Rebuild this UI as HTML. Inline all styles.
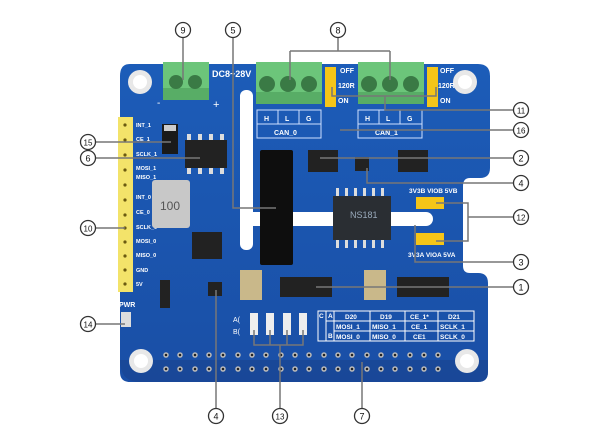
<!DOCTYPE html>
<html><head><meta charset="utf-8"><style>
html,body{margin:0;padding:0;background:#fff;}
svg{display:block;}
text{font-family:"Liberation Sans",sans-serif;}
</style></head><body>
<svg width="600" height="441" viewBox="0 0 600 441" xmlns="http://www.w3.org/2000/svg">
<defs>
<linearGradient id="pcb" x1="0" y1="0" x2="0" y2="1"><stop offset="0" stop-color="#1c5cb8"/><stop offset="1" stop-color="#1a4fa6"/></linearGradient>
</defs>
<!-- board -->
<path d="M130 64 H478 Q490 64 490 76 V168 Q490 178 480 178 H470 Q463 178 463 186 V266 Q463 273 470 273 H478 Q488 273 488 283 V372 Q488 382 478 382 H130 Q120 382 120 372 V76 Q120 64 130 64 Z" fill="url(#pcb)"/>
<path d="M120 360 Q120 382 140 382 H478 Q488 382 488 372 V360 Z" fill="#173f8a" opacity="0.5"/>
<!-- mounting holes -->
<circle cx="140" cy="82" r="12" fill="#e8e8e8"/><circle cx="140" cy="82" r="7" fill="#fff"/>
<circle cx="465" cy="82" r="12" fill="#e8e8e8"/><circle cx="465" cy="82" r="7" fill="#fff"/>
<circle cx="141" cy="361" r="12" fill="#e8e8e8"/><circle cx="141" cy="361" r="7" fill="#fff"/>
<circle cx="467" cy="361" r="12" fill="#e8e8e8"/><circle cx="467" cy="361" r="7" fill="#fff"/>
<!-- slots -->
<rect x="240" y="90" width="13" height="160" rx="6" fill="#fff"/>
<rect x="240" y="212" width="193" height="14" rx="7" fill="#fff"/>
<!-- terminal blocks -->
<rect x="163" y="62" width="46" height="38" fill="#6cc57a"/><rect x="163" y="88" width="46" height="12" fill="#58ad66"/>
<circle cx="176" cy="82" r="7" fill="#3a7a45"/><circle cx="195" cy="82" r="7" fill="#3a7a45"/>
<rect x="256" y="62" width="66" height="42" fill="#6cc57a"/><rect x="256" y="92" width="66" height="12" fill="#58ad66"/>
<circle cx="267" cy="84" r="8" fill="#3a7a45"/><circle cx="288" cy="84" r="8" fill="#3a7a45"/><circle cx="309" cy="84" r="8" fill="#3a7a45"/>
<rect x="358" y="62" width="66" height="42" fill="#6cc57a"/><rect x="358" y="92" width="66" height="12" fill="#58ad66"/>
<circle cx="369" cy="84" r="8" fill="#3a7a45"/><circle cx="390" cy="84" r="8" fill="#3a7a45"/><circle cx="411" cy="84" r="8" fill="#3a7a45"/>
<text x="212" y="77" font-size="9" font-weight="bold" fill="#fff">DC8~28V</text>
<text x="157" y="106" font-size="10" fill="#fff">-</text><text x="213" y="108" font-size="11" fill="#fff">+</text>
<!-- CAN labels -->
<g fill="none" stroke="#cfe0ff" stroke-width="1"><rect x="257" y="110" width="64" height="28"/><line x1="257" y1="124" x2="321" y2="124"/><line x1="278" y1="110" x2="278" y2="124"/><line x1="299" y1="110" x2="299" y2="124"/>
<rect x="358" y="110" width="64" height="28"/><line x1="358" y1="124" x2="422" y2="124"/><line x1="379" y1="110" x2="379" y2="124"/><line x1="400" y1="110" x2="400" y2="124"/></g>
<g font-size="7" font-weight="bold" fill="#fff"><text x="264" y="121">H</text><text x="285" y="121">L</text><text x="306" y="121">G</text><text x="274" y="135">CAN_0</text>
<text x="365" y="121">H</text><text x="386" y="121">L</text><text x="407" y="121">G</text><text x="375" y="135">CAN_1</text></g>
<!-- jumpers -->
<rect x="325" y="67" width="11" height="40" fill="#f5c518"/><rect x="427" y="67" width="11" height="40" fill="#f5c518"/>
<g font-size="7" font-weight="bold" fill="#fff"><text x="340" y="73">OFF</text><text x="338" y="88">120R</text><text x="338" y="103">ON</text>
<text x="440" y="73">OFF</text><text x="438" y="88">120R</text><text x="440" y="103">ON</text></g>
<rect x="416" y="197" width="28" height="12" fill="#f5c518"/><rect x="416" y="233" width="28" height="12" fill="#f5c518"/>
<g font-size="6.5" font-weight="bold" fill="#fff"><text x="409" y="193">3V3B VIOB 5VB</text><text x="408" y="257">3V3A VIOA 5VA</text></g>
<!-- header left -->
<rect x="118" y="117" width="15" height="175" fill="#f3e36a"/>
<g fill="#6b5a10"><circle cx="125" cy="125" r="1.6"/><circle cx="125" cy="140" r="1.6"/><circle cx="125" cy="155" r="1.6"/><circle cx="125" cy="170" r="1.6"/><circle cx="125" cy="185" r="1.6"/><circle cx="125" cy="200" r="1.6"/><circle cx="125" cy="215" r="1.6"/><circle cx="125" cy="228" r="1.6"/><circle cx="125" cy="242" r="1.6"/><circle cx="125" cy="256" r="1.6"/><circle cx="125" cy="270" r="1.6"/><circle cx="125" cy="284" r="1.6"/></g>
<g font-size="5.5" font-weight="bold" fill="#fff"><text x="136" y="127">INT_1</text><text x="136" y="141">CE_1</text><text x="136" y="156">SCLK_1</text><text x="136" y="170">MOSI_1</text><text x="136" y="179">MISO_1</text><text x="136" y="199">INT_0</text><text x="136" y="214">CE_0</text><text x="136" y="229">SCLK_0</text><text x="136" y="243">MOSI_0</text><text x="136" y="257">MISO_0</text><text x="136" y="272">GND</text><text x="136" y="286">5V</text></g>
<!-- components -->
<rect x="162" y="124" width="16" height="30" fill="#1a1a1a"/><rect x="164" y="125" width="12" height="6" fill="#ccc"/>
<rect x="185" y="140" width="42" height="28" fill="#222"/>
<g fill="#ddd"><rect x="187" y="134" width="4" height="6"/><rect x="198" y="134" width="4" height="6"/><rect x="209" y="134" width="4" height="6"/><rect x="220" y="134" width="4" height="6"/><rect x="187" y="168" width="4" height="6"/><rect x="198" y="168" width="4" height="6"/><rect x="209" y="168" width="4" height="6"/><rect x="220" y="168" width="4" height="6"/></g>
<rect x="152" y="180" width="38" height="48" rx="3" fill="#c8c8c8"/><text x="160" y="210" font-size="12" fill="#555">100</text>
<rect x="260" y="150" width="33" height="115" rx="2" fill="#0e0e0e"/>
<rect x="192" y="232" width="30" height="27" fill="#222"/>
<rect x="333" y="196" width="58" height="44" fill="#2a2e33"/><text x="350" y="218" font-size="9" fill="#9ab">NS181</text>
<g fill="#ddd"><rect x="336" y="188" width="3" height="8"/><rect x="345" y="188" width="3" height="8"/><rect x="354" y="188" width="3" height="8"/><rect x="363" y="188" width="3" height="8"/><rect x="372" y="188" width="3" height="8"/><rect x="381" y="188" width="3" height="8"/><rect x="336" y="240" width="3" height="8"/><rect x="345" y="240" width="3" height="8"/><rect x="354" y="240" width="3" height="8"/><rect x="363" y="240" width="3" height="8"/><rect x="372" y="240" width="3" height="8"/><rect x="381" y="240" width="3" height="8"/></g>
<rect x="308" y="150" width="30" height="22" fill="#222"/><rect x="398" y="150" width="30" height="22" fill="#222"/>
<rect x="280" y="277" width="52" height="20" fill="#222"/><rect x="397" y="277" width="52" height="20" fill="#222"/>
<rect x="240" y="270" width="22" height="30" fill="#c9b88a"/><rect x="364" y="270" width="22" height="30" fill="#c9b88a"/>
<rect x="355" y="157" width="14" height="14" fill="#222"/>
<rect x="208" y="282" width="14" height="14" fill="#222"/>
<rect x="160" y="280" width="10" height="28" fill="#222"/>
<!-- jumper pads 13 -->
<g fill="#eee"><rect x="250" y="313" width="8" height="22"/><rect x="266" y="313" width="8" height="22"/><rect x="283" y="313" width="8" height="22"/><rect x="299" y="313" width="8" height="22"/></g>
<text x="233" y="322" font-size="7" fill="#fff">A(</text><text x="233" y="334" font-size="7" fill="#fff">B(</text>
<!-- table -->
<g fill="none" stroke="#fff" stroke-width="1"><rect x="318" y="311" width="156" height="30"/><line x1="326" y1="311" x2="326" y2="341"/><line x1="334" y1="311" x2="334" y2="341"/><line x1="326" y1="321" x2="474" y2="321"/><line x1="334" y1="331" x2="474" y2="331"/><line x1="370" y1="311" x2="370" y2="341"/><line x1="405" y1="311" x2="405" y2="341"/><line x1="438" y1="311" x2="438" y2="341"/></g>
<g font-size="6.5" font-weight="bold" fill="#fff"><text x="319" y="318">C</text><text x="328" y="318">A</text><text x="328" y="338">B</text>
<text x="345" y="319">D20</text><text x="380" y="319">D19</text><text x="410" y="319">CE_1*</text><text x="448" y="319">D21</text>
<text x="336" y="329">MOSI_1</text><text x="372" y="329">MISO_1</text><text x="411" y="329">CE_1</text><text x="440" y="329">SCLK_1</text>
<text x="336" y="339">MOSI_0</text><text x="372" y="339">MISO_0</text><text x="413" y="339">CE1</text><text x="440" y="339">SCLK_0</text></g>
<!-- PWR -->
<text x="119" y="307" font-size="7" font-weight="bold" fill="#fff">PWR</text>
<rect x="121" y="312" width="10" height="15" fill="#ddd"/>
<!-- GPIO pins -->
<g fill="#222" stroke="#bbb" stroke-width="1.5" id="pins">
<circle cx="166" cy="355" r="2"/><circle cx="180" cy="355" r="2"/><circle cx="195" cy="355" r="2"/><circle cx="209" cy="355" r="2"/><circle cx="223" cy="355" r="2"/><circle cx="238" cy="355" r="2"/><circle cx="252" cy="355" r="2"/><circle cx="266" cy="355" r="2"/><circle cx="281" cy="355" r="2"/><circle cx="295" cy="355" r="2"/><circle cx="309" cy="355" r="2"/><circle cx="324" cy="355" r="2"/><circle cx="338" cy="355" r="2"/><circle cx="352" cy="355" r="2"/><circle cx="367" cy="355" r="2"/><circle cx="381" cy="355" r="2"/><circle cx="395" cy="355" r="2"/><circle cx="410" cy="355" r="2"/><circle cx="424" cy="355" r="2"/><circle cx="438" cy="355" r="2"/>
<circle cx="166" cy="369" r="2"/><circle cx="180" cy="369" r="2"/><circle cx="195" cy="369" r="2"/><circle cx="209" cy="369" r="2"/><circle cx="223" cy="369" r="2"/><circle cx="238" cy="369" r="2"/><circle cx="252" cy="369" r="2"/><circle cx="266" cy="369" r="2"/><circle cx="281" cy="369" r="2"/><circle cx="295" cy="369" r="2"/><circle cx="309" cy="369" r="2"/><circle cx="324" cy="369" r="2"/><circle cx="338" cy="369" r="2"/><circle cx="352" cy="369" r="2"/><circle cx="367" cy="369" r="2"/><circle cx="381" cy="369" r="2"/><circle cx="395" cy="369" r="2"/><circle cx="410" cy="369" r="2"/><circle cx="424" cy="369" r="2"/><circle cx="438" cy="369" r="2"/></g>
<!-- leader lines -->
<g fill="none" stroke="#777" stroke-width="1.5">
<path d="M183 37 V80"/><path d="M233 37 V208 H276"/>
<path d="M338 37 V51 M290 51 H390 M290 51 V80 M390 51 V80"/>
<path d="M95 142 H171"/><path d="M95 158 H200"/><path d="M95 228 H125"/><path d="M95 324 H125"/>
<path d="M332 87 V96 H436 V87 M385 96 V110 H514"/>
<path d="M340 130 H514"/><path d="M320 158 H514"/>
<path d="M367 168 V183 H514"/>
<path d="M436 203 H468 V241 H436 M468 217 H514"/>
<path d="M415 225 V262 H514"/>
<path d="M316 287 H514"/>
<path d="M216 290 V409"/><path d="M254 330 V345 H303 V330 M270 330 V345 M287 330 V345 M280 345 V409"/>
<path d="M362 362 V409"/>
</g>
<!-- numbered circles -->
<g fill="#fff" stroke="#333" stroke-width="1.3">
<circle cx="183" cy="30" r="7.5"/><circle cx="233" cy="30" r="7.5"/><circle cx="338" cy="30" r="7.5"/>
<circle cx="88" cy="142" r="7.5"/><circle cx="88" cy="158" r="7.5"/><circle cx="88" cy="228" r="7.5"/><circle cx="88" cy="324" r="7.5"/>
<circle cx="521" cy="110" r="7.5"/><circle cx="521" cy="130" r="7.5"/><circle cx="521" cy="158" r="7.5"/><circle cx="521" cy="183" r="7.5"/><circle cx="521" cy="217" r="7.5"/><circle cx="521" cy="262" r="7.5"/><circle cx="521" cy="287" r="7.5"/>
<circle cx="216" cy="416" r="7.5"/><circle cx="280" cy="416" r="7.5"/><circle cx="362" cy="416" r="7.5"/></g>
<g font-size="9" fill="#111" text-anchor="middle">
<text x="183" y="33.5">9</text><text x="233" y="33.5">5</text><text x="338" y="33.5">8</text>
<text x="88" y="145.5" font-size="8">15</text><text x="88" y="161.5">6</text><text x="88" y="231.5" font-size="8">10</text><text x="88" y="327.5" font-size="8">14</text>
<text x="521" y="113.5" font-size="8">11</text><text x="521" y="133.5" font-size="8">16</text><text x="521" y="161.5">2</text><text x="521" y="186.5">4</text><text x="521" y="220.5" font-size="8">12</text><text x="521" y="265.5">3</text><text x="521" y="290.5">1</text>
<text x="216" y="419.5">4</text><text x="280" y="419.5" font-size="8">13</text><text x="362" y="419.5">7</text></g>
</svg>
</body></html>
